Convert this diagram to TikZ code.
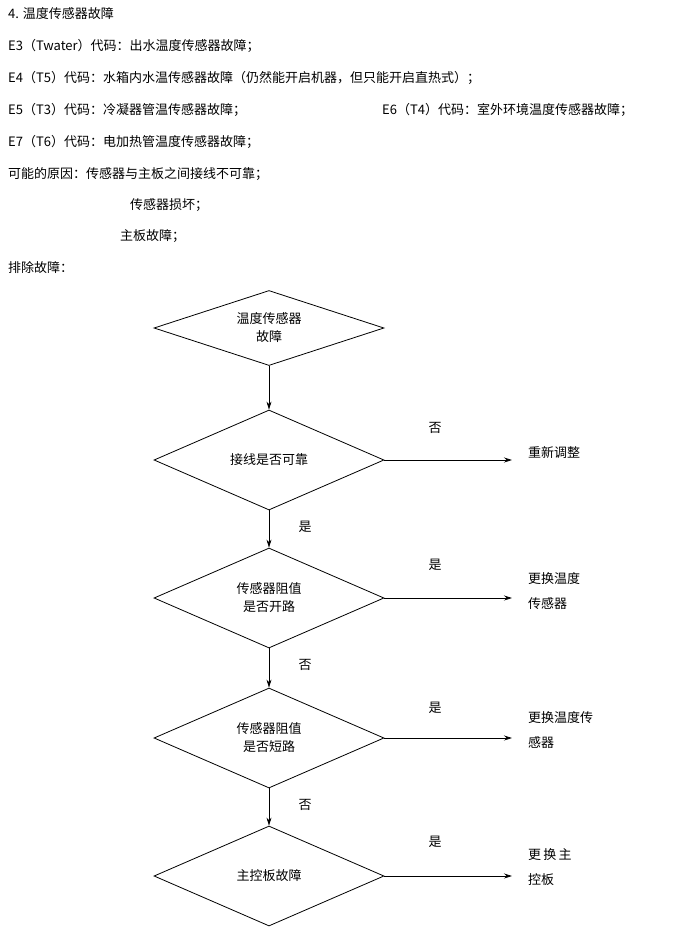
\documentclass[tikz,border=0pt]{standalone}
\usepackage{fontspec}
\setmainfont{Liberation Serif}
\newfontfamily\cjk{Noto Sans CJK SC}
\usetikzlibrary{shapes.geometric,arrows.meta}
\begin{document}
\begin{tikzpicture}[x=1pt,y=-1pt,
  dia/.style={draw,thick,diamond,aspect=3,minimum width=230pt,minimum height=100pt,inner sep=0pt,align=center,font=\cjk\fontsize{13}{18}\selectfont},
  dia1/.style={dia,minimum height=75pt,aspect=3},
  txt/.style={anchor=west,inner sep=0pt,font=\cjk\fontsize{13}{16}\selectfont},
  lab/.style={inner sep=0pt,font=\cjk\fontsize{13}{16}\selectfont},
  res/.style={anchor=west,inner sep=0pt,align=left,font=\cjk\fontsize{13}{25}\selectfont},
  arr/.style={draw,thick,-{Stealth[length=8pt,width=5pt]}}]
\useasboundingbox (0,0) rectangle (700,935);
\node[txt] (h1) at (8,14) {4. 温度传感器故障};
\node[txt] (h2) at (8,46) {E3（Twater）代码：出水温度传感器故障；};
\node[txt] (h3) at (8,78) {E4（T5）代码：水箱内水温传感器故障（仍然能开启机器，但只能开启直热式）；};
\node[txt] (h4) at (8,110) {E5（T3）代码：冷凝器管温传感器故障；};
\node[txt] (h4b) at (382,110) {E6（T4）代码：室外环境温度传感器故障；};
\node[txt] (h5) at (8,142) {E7（T6）代码：电加热管温度传感器故障；};
\node[txt] (h6) at (8,174) {可能的原因：传感器与主板之间接线不可靠；};
\node[txt] (h7) at (130,205) {传感器损坏；};
\node[txt] (h8) at (120,236) {主板故障；};
\node[txt] (h9) at (8,268) {排除故障：};
\node[dia1] (d1) at (269,328) {温度传感器\\故障};
\node[dia] (d2) at (269,460) {接线是否可靠};
\node[dia] (d3) at (269,598) {传感器阻值\\是否开路};
\node[dia] (d4) at (269,738) {传感器阻值\\是否短路};
\node[dia] (d5) at (269,876) {主控板故障};
\coordinate (e2) at (512,460);
\coordinate (e3) at (512,598);
\coordinate (e4) at (512,738);
\coordinate (e5) at (512,876);
\draw[arr] (d1.south) -- (d2.north);
\draw[arr] (d2.south) -- (d3.north);
\draw[arr] (d3.south) -- (d4.north);
\draw[arr] (d4.south) -- (d5.north);
\draw[arr] (d2.east) -- (e2);
\draw[arr] (d3.east) -- (e3);
\draw[arr] (d4.east) -- (e4);
\draw[arr] (d5.east) -- (e5);
\node[lab] (l1) at (435,428) {否};
\node[lab] (l2) at (305,527) {是};
\node[lab] (l3) at (435,565) {是};
\node[lab] (l4) at (305,665) {否};
\node[lab] (l5) at (435,708) {是};
\node[lab] (l6) at (305,805) {否};
\node[lab] (l7) at (435,842) {是};
\node[res] (r1) at (528,453) {重新调整};
\node[res] (r2) at (528,591) {更换温度\\传感器};
\node[res] (r3) at (528,730) {更换温度传\\感器};
\node[res] (r4) at (528,867) {更\,换\,主\\控板};
\end{tikzpicture}
\end{document}
